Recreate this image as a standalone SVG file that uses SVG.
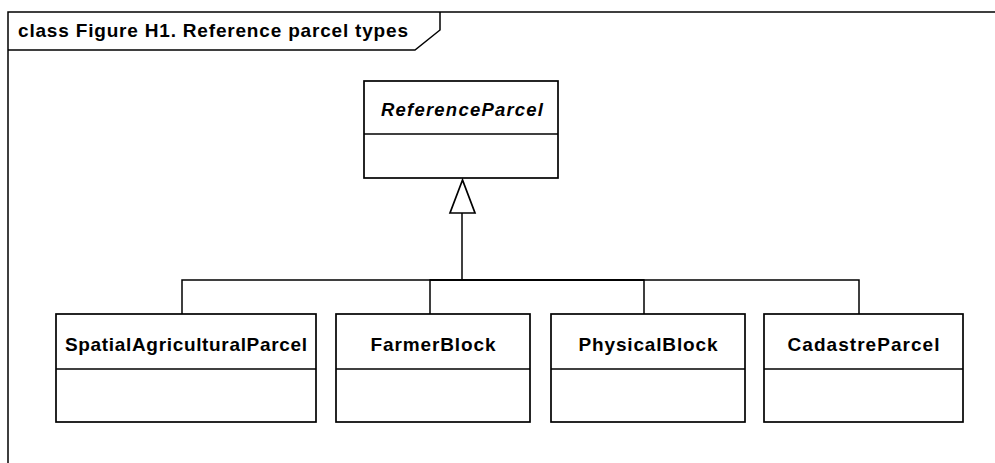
<svg xmlns="http://www.w3.org/2000/svg" width="995" height="463" viewBox="0 0 995 463">
<style>
.box{fill:#fff;stroke:#000;stroke-width:1.7}
.ln{fill:none;stroke:#000;stroke-width:1.5}
.t{font-family:"Liberation Sans",Arial,sans-serif;font-weight:bold;font-size:19px;fill:#000;text-anchor:middle}
.ti{font-style:italic;font-size:18.5px}
</style>
<rect width="995" height="463" fill="#fff"/>
<g id="frame">
<path class="ln" d="M8,470 V12 H1000"/>
<path class="ln" d="M8,50 H415 L440,30 V12"/>
<text x="18" y="37" font-family="Liberation Sans, Arial, sans-serif" font-weight="bold" font-size="19" textLength="390" lengthAdjust="spacing">class Figure H1. Reference parcel types</text>
</g>
<g id="connectors">
<path class="ln" d="M182,314 V280 H462"/>
<path class="ln" d="M430,314 V280 H462"/>
<path class="ln" d="M644,314 V280 H462"/>
<path class="ln" d="M859,314 V280 H462"/>
<path class="ln" d="M430,280 H644" stroke-width="2.2"/>
<path class="ln" d="M462,280 V213" stroke-width="3"/>
<polygon points="462.5,180 450,213 475,213" fill="#fff" stroke="#000" stroke-width="1.7"/>
</g>
<g id="ReferenceParcel">
<rect class="box" x="364" y="81" width="194" height="97"/>
<line class="ln" x1="364" y1="134" x2="558" y2="134"/>
<text class="t ti" x="462" y="116" textLength="162" lengthAdjust="spacing">ReferenceParcel</text>
</g>
<g id="SpatialAgriculturalParcel">
<rect class="box" x="56" y="314" width="260" height="108"/>
<line class="ln" x1="56" y1="369" x2="316" y2="369"/>
<text class="t" x="186" y="351" textLength="242" lengthAdjust="spacing">SpatialAgriculturalParcel</text>
</g>
<g id="FarmerBlock">
<rect class="box" x="336" y="314" width="194" height="108"/>
<line class="ln" x1="336" y1="369" x2="530" y2="369"/>
<text class="t" x="433" y="351" textLength="125" lengthAdjust="spacing">FarmerBlock</text>
</g>
<g id="PhysicalBlock">
<rect class="box" x="551" y="314" width="194" height="108"/>
<line class="ln" x1="551" y1="369" x2="745" y2="369"/>
<text class="t" x="648" y="351" textLength="139" lengthAdjust="spacing">PhysicalBlock</text>
</g>
<g id="CadastreParcel">
<rect class="box" x="764" y="314" width="199" height="108"/>
<line class="ln" x1="764" y1="369" x2="963" y2="369"/>
<text class="t" x="863.5" y="351" textLength="152" lengthAdjust="spacing">CadastreParcel</text>
</g>
</svg>
